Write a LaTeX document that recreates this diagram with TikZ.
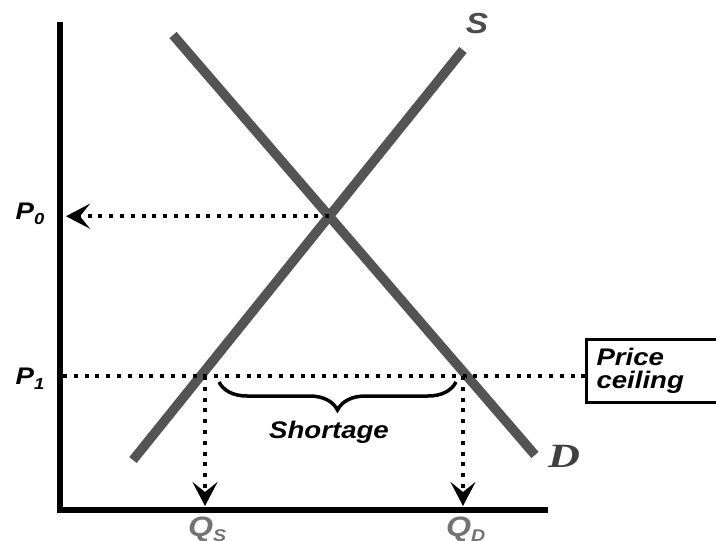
\documentclass[tikz,border=0pt]{standalone}
\usepackage{fontspec}
\setmainfont{Liberation Serif}
\setsansfont{Liberation Sans}
\newfontfamily\lblfont{Liberation Sans}[FakeStretch=1.15]
\newfontfamily\dfont{Liberation Serif}[FakeStretch=1.3]
\usetikzlibrary{arrows.meta, positioning, calc, decorations.pathreplacing}

\begin{document}
\begin{tikzpicture}[x=1pt, y=-1pt, >=Stealth,
    axis/.style={line width=5.5pt, black},
    curve/.style={line width=9.5pt, black!67},
    guide/.style={line width=4pt, dash pattern=on 4pt off 6.8pt},
    tip/.style={-{Stealth[length=24pt, width=25pt, inset=10pt]}},
    lab/.style={font=\lblfont\bfseries\itshape\fontsize{24}{23}\selectfont}]
  \useasboundingbox (0,0) rectangle (716,541);

  % axes
  \coordinate (O) at (60,510);
  \coordinate (ytop) at (60,22);
  \coordinate (xend) at (548,510);
  \draw[axis] (ytop) -- (O) -- (xend);

  % supply and demand
  \coordinate (S0) at (133,460);
  \coordinate (S1) at (463,50);
  \coordinate (D0) at (173,35);
  \coordinate (D1) at (535,455);
  \draw[curve] (S0) -- (S1);
  \draw[curve] (D0) -- (D1);
  \coordinate (E) at (intersection of S0--S1 and D0--D1);

  % equilibrium price
  \coordinate (P0tip) at ($(O |- E)+(6,0)$);
  \draw[guide, tip] (E) -- (P0tip);

  % ceiling
  \node[lab, draw, line width=3pt, anchor=west, minimum width=150pt, minimum height=61pt,
        text width=130pt, align=left, inner sep=9pt] (ceil) at (585,371)
        {Price\\ceiling};
  \coordinate (P1) at (63,376);
  \draw[guide] (P1) -- (P1 -| ceil.west);

  % quantities
  \coordinate (Qs) at (205,376);
  \coordinate (Qd) at (463,376);
  \coordinate (Qsend) at (205,506);
  \coordinate (Qdend) at (463,506);
  \draw[guide, tip] (Qs) -- (Qsend);
  \draw[guide, tip] (Qd) -- (Qdend);

  % shortage
  \coordinate (B0) at (219,382);
  \coordinate (B1) at (456,382);
  \draw[line width=3.5pt, decorate, decoration={brace, mirror, amplitude=28pt}] (B0) -- (B1);
  \node[lab] (short) at (329,432) {Shortage};

  % labels
  \node[lab] (p0) at (30,214) {P\raisebox{-5pt}{\fontsize{16}{16}\selectfont 0}};
  \node[lab] (p1) at (30,379) {P\raisebox{-5pt}{\fontsize{16}{16}\selectfont 1}};
  \node[lab, font=\lblfont\bfseries\itshape\fontsize{29}{30}\selectfont, text=black!70] (slab) at (477,24) {S};
  \node[font=\dfont\bfseries\itshape\fontsize{34}{36}\selectfont, text=black!75] (dlab) at (564,456) {D};
  \node[lab, font=\lblfont\bfseries\itshape\fontsize{28}{30}\selectfont, text=black!55, anchor=north west, inner sep=0pt] (qs) at (188,517) {Q\raisebox{-5pt}{\fontsize{17}{17}\selectfont S}};
  \node[lab, font=\lblfont\bfseries\itshape\fontsize{28}{30}\selectfont, text=black!55, anchor=north west, inner sep=0pt] (qd) at (446,517) {Q\raisebox{-5pt}{\fontsize{17}{17}\selectfont D}};
\end{tikzpicture}
\end{document}
